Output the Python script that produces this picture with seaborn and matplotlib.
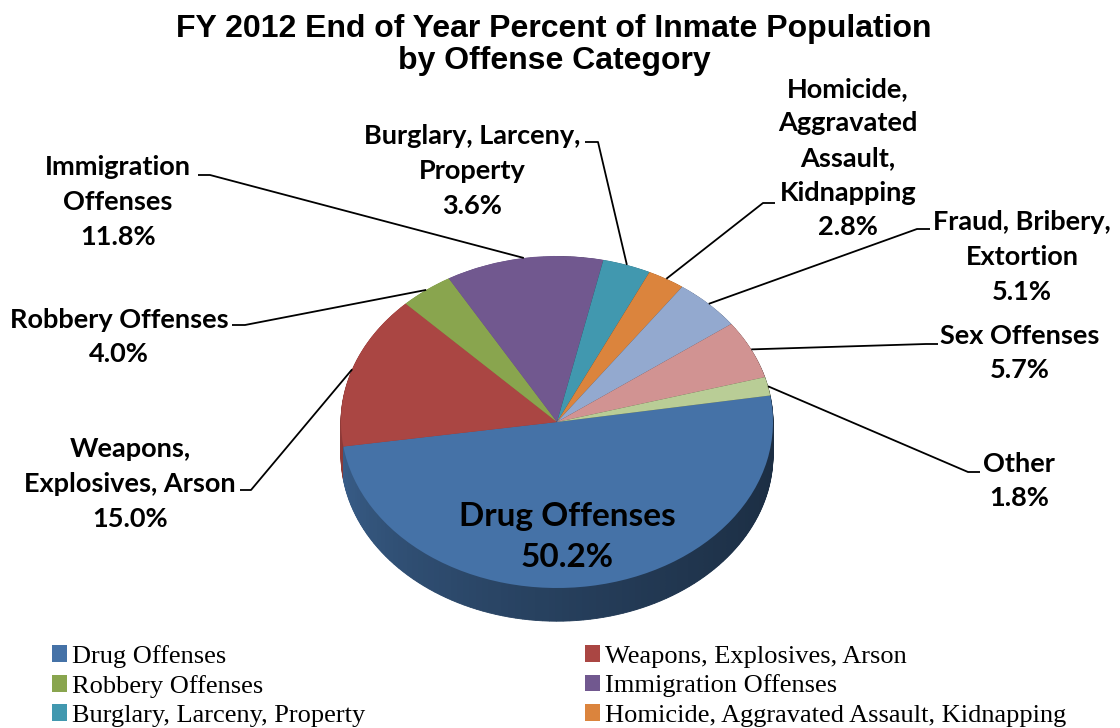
import numpy as np
import matplotlib
matplotlib.use("Agg")
import matplotlib.pyplot as plt
from matplotlib.patches import Rectangle
from matplotlib.colors import to_rgb
import seaborn as sns

# ---------------- data ----------------
categories = ["Drug Offenses", "Weapons, Explosives, Arson", "Robbery Offenses",
              "Immigration Offenses", "Burglary, Larceny, Property",
              "Homicide, Aggravated Assault, Kidnapping", "Fraud, Bribery, Extortion",
              "Sex Offenses", "Other"]
percent = [50.2, 15.0, 4.0, 11.8, 3.6, 2.8, 5.1, 5.7, 1.8]
label_names = ["Drug Offenses", "Weapons,\nExplosives, Arson", "Robbery Offenses",
               "Immigration\nOffenses", "Burglary, Larceny,\nProperty",
               "Homicide,\nAggravated\nAssault,\nKidnapping", "Fraud, Bribery,\nExtortion",
               "Sex Offenses", "Other"]
colors = ["#4572A7", "#AA4643", "#89A54E", "#71588F", "#4198AF",
          "#DB843D", "#93A9CF", "#D19392", "#B9CD96"]
legend_visible = 6          # legend rows beyond the third are cut off in the original
title = "FY 2012 End of Year Percent of Inmate Population\nby Offense Category"

# ---------------- layout ----------------
sns.set_theme(style="white")
plt.rcParams['font.family'] = ['Lato', 'DejaVu Sans']
plt.rcParams['text.color'] = 'black'

W, H = 1120, 728
fig = plt.figure(figsize=(W / 100, H / 100), dpi=100)
fig.patch.set_facecolor("white")

cx, cy, a, b = 557, 422, 216, 166      # pie centre / radii in pixels
depth = 0.2
xl = (-1.05, 1.05)
yl = (-1.05 - depth - 0.05, 1.05)
left = cx + xl[0] * a
right = cx + xl[1] * a
top = cy - yl[1] * b
bottom = cy - yl[0] * b
axp = fig.add_axes([left / W, 1 - bottom / H, (right - left) / W, (bottom - top) / H])

start = 9.2
vals = np.array(percent)
total = vals.sum()

# side (extrusion) of the 3-D pie: each slice split finely so the side can be shaded
side_vals, side_cols = [], []
acc = 0.0
for v, col in zip(vals, colors):
    m = max(1, int(round(v / 0.5)))
    for j in range(m):
        piece = v / m
        th = (start - (acc + piece / 2) / total * 360) % 360
        if th < 180:
            th_f = 360.0 if th < 90 else 180.0
        else:
            th_f = th
        f = 0.40 + 0.45 * ((360 - th_f) / 180) ** 1.5
        side_vals.append(piece)
        side_cols.append(tuple(c * f for c in to_rgb(col)))
        acc += piece

for k in np.linspace(depth, 0.004, 45):
    wedges, _ = axp.pie(side_vals, colors=side_cols, startangle=start, counterclock=False,
                        center=(0, -k), wedgeprops=dict(linewidth=0.6))
    for w, c in zip(wedges, side_cols):
        w.set_edgecolor(c)
axp.pie(percent, colors=colors, startangle=start, counterclock=False,
        wedgeprops=dict(linewidth=0))
axp.set_aspect('auto')
axp.set_xlim(xl)
axp.set_ylim(yl)
axp.axis('off')

# overlay axes in pixel coordinates
axo = fig.add_axes([0, 0, 1, 1], zorder=3)
axo.set_xlim(0, W)
axo.set_ylim(H, 0)
axo.axis('off')
axo.patch.set_alpha(0)

fig.canvas.draw()
cum = np.concatenate([[0], np.cumsum(vals)[:-1]])
mid = np.deg2rad(start - (cum + vals / 2) / total * 360)

def pie_point(i, r=1.0):
    disp = axp.transData.transform((r * np.cos(mid[i]), r * np.sin(mid[i])))
    return axo.transData.inverted().transform(disp)

# label centres (pixels) and leader text-side points
label_pos = {
    1: (130, 484), 2: (119, 337), 3: (118, 202), 4: (472, 171),
    5: (848, 158), 6: (1022, 257), 7: (1020, 353), 8: (1019, 481),
}
leader_pts = {
    1: [(240, 490), (251, 490)],
    2: [(232, 325), (245, 325)],
    3: [(198, 175), (210, 175)],
    4: [(585, 142), (598, 142)],
    5: [(775, 203), (763, 203)],
    6: [(930, 229), (917, 229)],
    7: [(938, 344), (926, 344)],
    8: [(980, 472), (968, 472)],
}
for i, (x, y) in label_pos.items():
    axo.text(x, y, f"{label_names[i]}\n{percent[i]:.1f}%", ha='center', va='center',
             fontsize=19.5, fontweight='bold', color='black', linespacing=1.53)
    p = pie_point(i)
    pts = leader_pts[i] + [tuple(p)]
    axo.plot([q[0] for q in pts], [q[1] for q in pts], color='black', lw=1.3,
             solid_capstyle='butt')

# inside label for the largest slice
axo.text(567, 537, f"{label_names[0]}\n{percent[0]:.1f}%", ha='center', va='center',
         fontsize=24, fontweight='bold', color='black', linespacing=1.46)

# title
axo.text(554, 45, title, ha='center', va='center', fontsize=23, fontweight='bold',
         family=['Liberation Sans', 'DejaVu Sans'], linespacing=1.13, color='black')

# legend (two columns, row-wise order)
handles = [Rectangle((0, 0), 1, 1, facecolor=c, edgecolor='none') for c in colors]
prop = dict(family=['Liberation Serif', 'DejaVu Serif'], size=19)
common = dict(loc='upper left', frameon=False, prop=prop, handlelength=0.58,
              handleheight=0.6, handletextpad=0.16, labelspacing=0.25,
              borderpad=0, borderaxespad=0, labelcolor='black')
shown = list(range(legend_visible))
col1 = shown[0::2]
col2 = shown[1::2]
fig.legend([handles[i] for i in col1], [categories[i] for i in col1],
           bbox_to_anchor=(52 / W, 1 - 645 / H), **common)
fig.legend([handles[i] for i in col2], [categories[i] for i in col2],
           bbox_to_anchor=(585 / W, 1 - 645 / H), **common)

fig.savefig("out.png", dpi=100, facecolor="white")
